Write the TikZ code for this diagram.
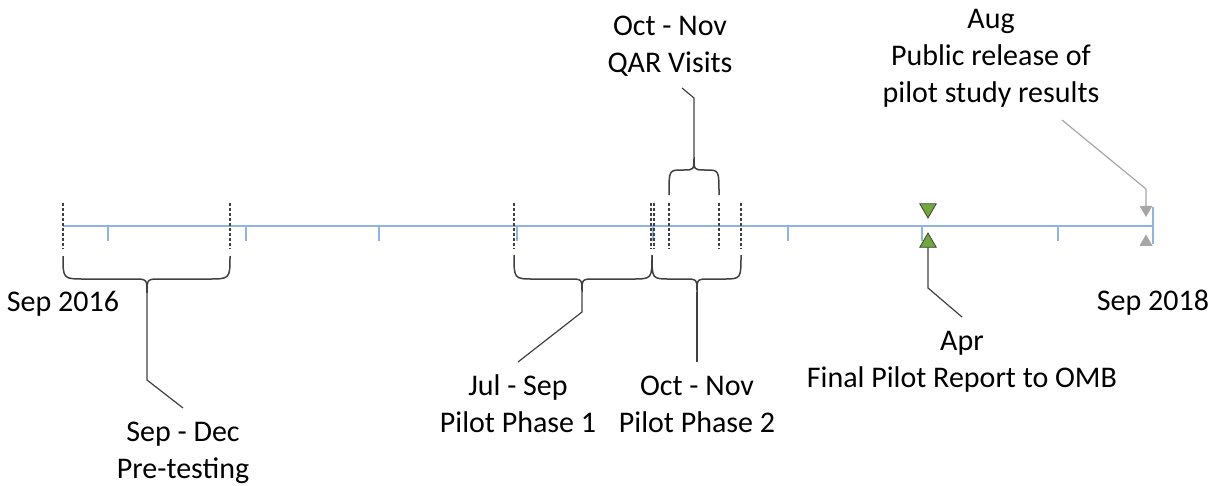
\documentclass[tikz,border=0pt]{standalone}
\usepackage{fontspec}
\setmainfont{Carlito}
\usetikzlibrary{shapes.geometric}
\definecolor{axisblue}{RGB}{141,180,226}
\definecolor{trigreen}{RGB}{112,168,60}
\definecolor{trigrey}{RGB}{166,166,166}
\definecolor{inkgrey}{RGB}{64,64,64}
\begin{document}
\begin{tikzpicture}[x=1pt,y=-1pt,
  axisline/.style={draw=axisblue,line width=1.5pt},
  tickmark/.style={draw=axisblue,line width=1.3pt},
  datemark/.style={draw=inkgrey,line width=1.1pt,dash pattern=on 3pt off 2pt},
  bracepath/.style={draw=inkgrey,line width=1.5pt},
  leader/.style={draw=inkgrey,line width=1.2pt},
  greyleader/.style={draw=trigrey,line width=1.2pt},
  lbl/.style={font=\fontsize{30}{37}\selectfont,align=center,inner sep=0pt,outer sep=0pt,anchor=base},
  greentri/.style={regular polygon,regular polygon sides=3,fill=trigreen,draw=inkgrey,line width=0.8pt,inner sep=0pt,outer sep=0pt,minimum size=19pt},
  greytri/.style={regular polygon,regular polygon sides=3,fill=trigrey,draw=none,inner sep=0pt,outer sep=0pt,minimum size=15pt}]
\useasboundingbox (0,0) rectangle (1217,485);

% axis
\draw[axisline] (63,226) -- (1153,226);
\draw[tickmark] (1153,207) -- (1153,244);
\foreach \tx in {108,246,379,517,653,788,922,1058}
  \draw[tickmark] (\tx,226) -- (\tx,241);

% date marks
\foreach \dx in {63,230,514,651,654,669,719,741}
  \draw[datemark] (\dx,203) -- (\dx,249);

% braces
\draw[bracepath] (63,256) .. controls (63,279) .. (85,279) -- (133,279)
  .. controls (147,279) .. (147,293) .. controls (147,279) .. (161,279)
  -- (208,279) .. controls (230,279) .. (230,256);
\draw[bracepath] (514,255) .. controls (514,279) .. (534,279) -- (569,279)
  .. controls (582,279) .. (582,292) .. controls (582,279) .. (595,279)
  -- (632,279) .. controls (652,279) .. (652,255);
\draw[bracepath] (652,255) .. controls (652,279) .. (670,279) -- (684,279)
  .. controls (697,279) .. (697,292) .. controls (697,279) .. (710,279)
  -- (723,279) .. controls (741,279) .. (741,255);
\draw[bracepath] (669,195) .. controls (669,170) .. (682,170) -- (683,170)
  .. controls (694,170) .. (694,157) .. controls (694,170) .. (705,170)
  -- (706,170) .. controls (719,170) .. (719,195);

\coordinate (preTip) at (147,293);
\coordinate (ph1Tip) at (582,292);
\coordinate (ph2Tip) at (697,292);
\coordinate (qarTip) at (694,157);

% triangles
\node[greentri,shape border rotate=180] (aprDown) at (928,208.5) {};
\node[greentri] (aprUp) at (928,242.5) {};
\node[greytri,shape border rotate=180] (augDown) at (1146,209.5) {};
\node[greytri] (augUp) at (1146,242) {};

% labels (base = baseline of last line)
\node[lbl] (sep16) at (63,311) {Sep 2016};
\node[lbl] (sep18) at (1153,310) {Sep 2018};
\node[lbl] (pre) at (183,478) {Sep - Dec\\Pre-testing};
\node[lbl] (ph1) at (518,432) {Jul - Sep\\Pilot Phase 1};
\node[lbl] (ph2) at (697,432) {Oct - Nov\\Pilot Phase 2};
\node[lbl] (qar) at (670,72) {Oct - Nov\\QAR Visits};
\node[lbl] (apr) at (962,387) {Apr\\Final Pilot Report to OMB};
\node[lbl] (aug) at (991,102) {Aug\\Public release of\\pilot study results};

% leaders
\coordinate (preBend) at (147,380);
\coordinate (preEnd) at (183,408);
\draw[leader] (preTip) -- (preBend) -- (preEnd);
\coordinate (ph1Bend) at (582,312);
\coordinate (ph1End) at (518,362);
\draw[leader] (ph1Tip) -- (ph1Bend) -- (ph1End);
\coordinate (ph2End) at (697,362);
\draw[leader] (ph2Tip) -- (ph2End);
\coordinate (qarBend) at (694,98);
\coordinate (qarEnd) at (682,88);
\draw[leader] (qarTip) -- (qarBend) -- (qarEnd);
\coordinate (aprBend) at (928,288);
\coordinate (aprEnd) at (962,317);
\draw[leader] (aprUp.south) -- (aprBend) -- (aprEnd);
\coordinate (augStart) at (1062,120);
\coordinate (augBend) at (1146,189);
\draw[greyleader] (augStart) -- (augBend) -- (augDown.north);
\end{tikzpicture}
\end{document}
